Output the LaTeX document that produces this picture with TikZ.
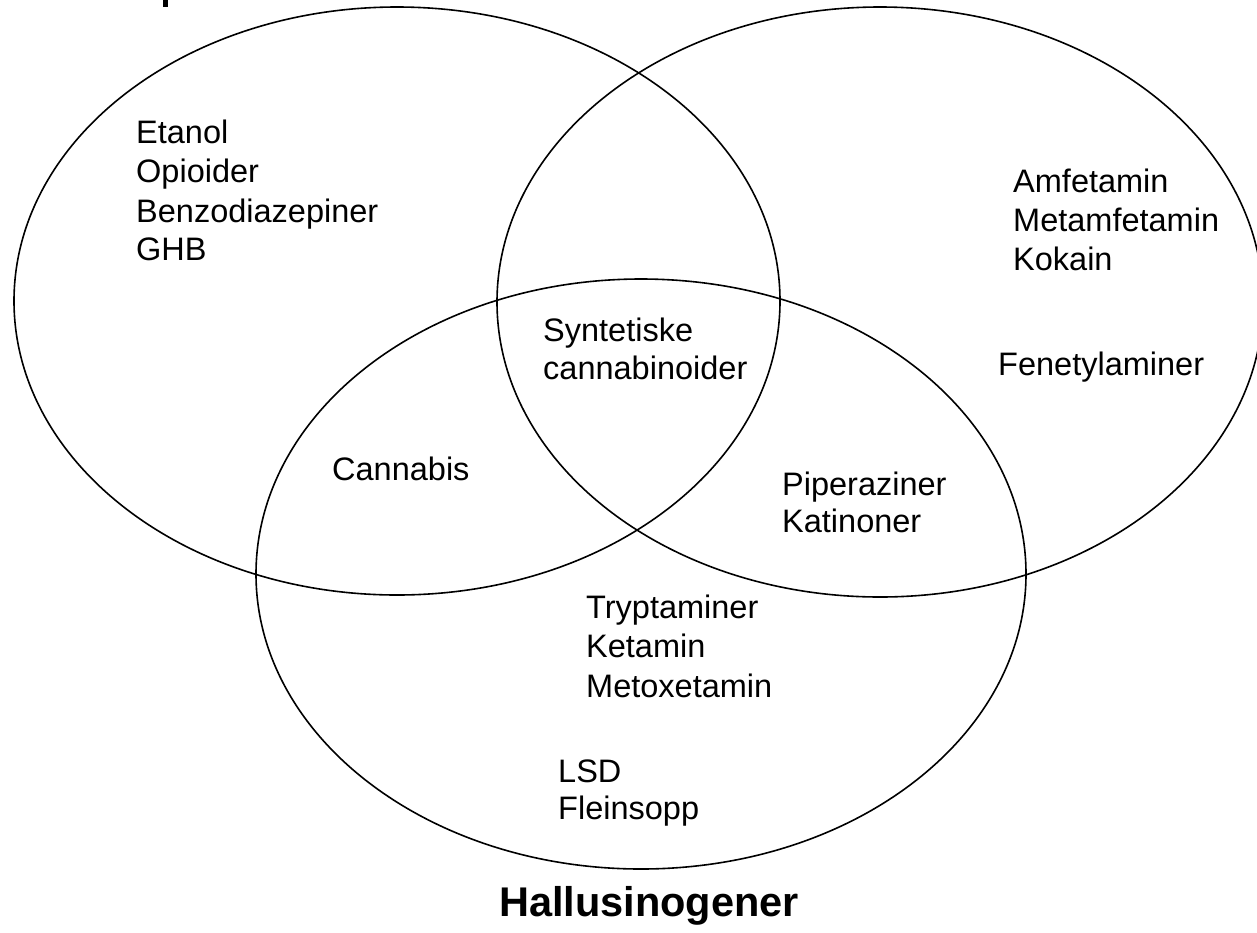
\documentclass[tikz,border=0pt]{standalone}
\usepackage{fontspec}
\setmainfont{Liberation Sans}
\begin{document}
\begin{tikzpicture}[x=1pt,y=-1pt,
  ring/.style={draw=black,line width=1.6pt},
  lbl/.style={anchor=base west,inner sep=0pt,font=\fontsize{32.5}{39}\selectfont},
  ttl/.style={anchor=base,inner sep=0pt,font=\fontsize{41.5}{50}\selectfont\bfseries}]
\useasboundingbox (0,0) rectangle (1257,932);
% circles
\draw[ring] (397,301) ellipse [x radius=383pt, y radius=294pt];
\draw[ring] (880,302) ellipse [x radius=383pt, y radius=295pt];
\draw[ring] (641,574) ellipse [x radius=385pt, y radius=295pt];
% cut-off title descender at top edge
\fill[black] (163,0) rectangle (168,7);
% left
\node[lbl] (etanol) at (136,143) {Etanol};
\node[lbl] (opioider) at (136,182) {Opioider};
\node[lbl] (benzo) at (136,222) {Benzodiazepiner};
\node[lbl] (ghb) at (136,260) {GHB};
% right
\node[lbl] (amf) at (1013,192) {Amfetamin};
\node[lbl] (metamf) at (1013,231) {Metamfetamin};
\node[lbl] (kokain) at (1013,270) {Kokain};
\node[lbl] (fenet) at (998,375) {Fenetylaminer};
% centre
\node[lbl] (synt) at (543,341) {Syntetiske};
\node[lbl] (canno) at (543,379) {cannabinoider};
% overlaps
\node[lbl] (cannabis) at (332,480) {Cannabis};
\node[lbl] (piper) at (782,495) {Piperaziner};
\node[lbl] (katin) at (782,532) {Katinoner};
% bottom
\node[lbl] (trypt) at (586,618) {Tryptaminer};
\node[lbl] (ketamin) at (586,657) {Ketamin};
\node[lbl] (metox) at (586,697) {Metoxetamin};
\node[lbl] (lsd) at (558,782) {LSD};
\node[lbl] (flein) at (558,819) {Fleinsopp};
\node[ttl] (hall) at (649,916) {Hallusinogener};
\end{tikzpicture}
\end{document}
